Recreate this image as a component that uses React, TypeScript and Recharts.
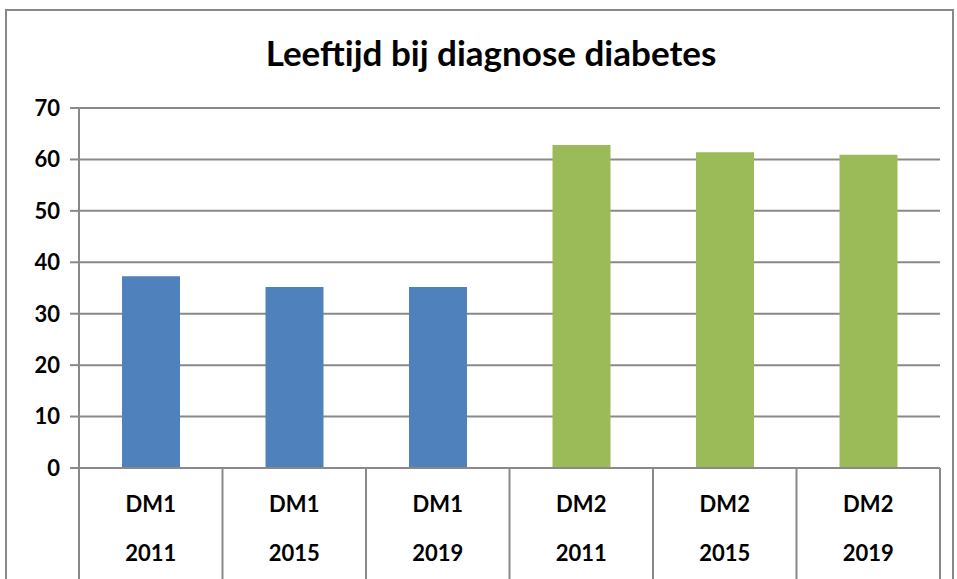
import { BarChart, Bar, XAxis, YAxis, CartesianGrid, Cell } from "recharts";

const types = ["DM1", "DM1", "DM1", "DM2", "DM2", "DM2"];
const years = ["2011", "2015", "2019", "2011", "2015", "2019"];
const ages = [37.3, 35.2, 35.2, 62.8, 61.4, 60.9];
const barColors = ["#4F81BD", "#4F81BD", "#4F81BD", "#9BBB59", "#9BBB59", "#9BBB59"];
const yTicks = [0, 10, 20, 30, 40, 50, 60, 70];

const data = types.map((t, i) => ({
  name: `${t} ${years[i]}`,
  type: t,
  year: years[i],
  age: ages[i],
}));

const W = 957;
const H = 579;
const LEFT = 79;
const RIGHT = 17;
const AXIS_H = 111;
const GRID = "#898989";
const FONT = "Lato, 'Open Sans', Arial, sans-serif";

const CategoryTick = (props: any) => {
  const { x, y, index } = props;
  const band = (W - LEFT - RIGHT) / data.length;
  const d = data[index];
  const last = index === data.length - 1;
  return (
    <g>
      <line x1={x - band / 2} y1={y} x2={x - band / 2} y2={H} stroke={GRID} strokeWidth={2} />
      {last && (
        <line x1={x + band / 2} y1={y} x2={x + band / 2} y2={H} stroke={GRID} strokeWidth={2} />
      )}
      <text x={x} y={y + 44} textAnchor="middle" fontSize={22} fontWeight="bold" fill="#000" fontFamily={FONT}>
        {d.type}
      </text>
      <text x={x} y={y + 93} textAnchor="middle" fontSize={22} fontWeight="bold" fill="#000" fontFamily={FONT}>
        {d.year}
      </text>
    </g>
  );
};

const App = () => {
  return (
    <div style={{ position: "absolute", left: 0, top: 0, width: W, height: H, background: "#fff", overflow: "hidden" }}>
      <div
        style={{
          position: "absolute",
          left: 5,
          top: 9,
          width: 945,
          height: 620,
          border: `2px solid ${GRID}`,
        }}
      />
      <div
        style={{
          position: "absolute",
          left: 0,
          top: 31,
          width: 982,
          textAlign: "center",
          fontFamily: FONT,
          fontWeight: "bold",
          fontSize: 35,
          color: "#000",
        }}
      >
        Leeftijd bij diagnose diabetes
      </div>
      <BarChart
        width={W}
        height={H}
        data={data}
        margin={{ top: 108, right: RIGHT, bottom: 0, left: 0 }}
        style={{ position: "absolute", left: 0, top: 0 }}
      >
        <CartesianGrid vertical={false} stroke={GRID} strokeWidth={2} />
        <XAxis
          dataKey="name"
          height={AXIS_H}
          tickSize={0}
          tickMargin={0}
          tickLine={false}
          axisLine={{ stroke: GRID, strokeWidth: 2 }}
          interval={0}
          tick={<CategoryTick />}
        />
        <YAxis
          width={LEFT}
          domain={[0, 70]}
          ticks={yTicks}
          interval={0}
          tickSize={9}
          tickMargin={10}
          axisLine={{ stroke: GRID, strokeWidth: 2 }}
          tickLine={{ stroke: GRID, strokeWidth: 2 }}
          tick={{ fontSize: 22, fontWeight: "bold", fill: "#000", fontFamily: FONT }}
        />
        <Bar dataKey="age" barSize={58} isAnimationActive={false}>
          {data.map((d, i) => (
            <Cell key={d.name} fill={barColors[i]} />
          ))}
        </Bar>
      </BarChart>
    </div>
  );
};

export default App;
